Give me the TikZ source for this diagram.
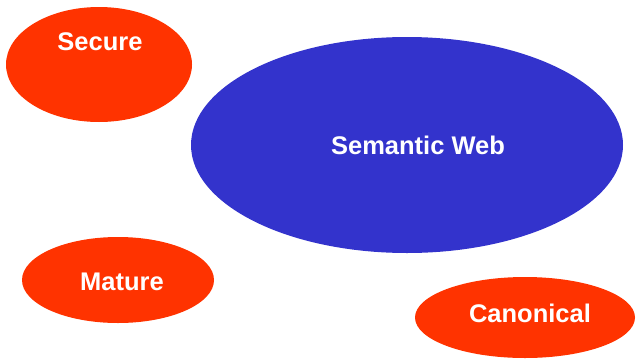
\documentclass[tikz,border=0pt]{standalone}
\usepackage{fontspec}
\setmainfont{Liberation Sans}
\usetikzlibrary{shapes.geometric}
\definecolor{redorange}{HTML}{FF3300}
\definecolor{webblue}{HTML}{3333CC}
\tikzset{
  blob/.style={ellipse, inner sep=0pt, draw=none},
  redblob/.style={blob, fill=redorange},
  blueblob/.style={blob, fill=webblue},
  lbl/.style={text=white, font=\fontsize{25.5}{30}\selectfont\bfseries, inner sep=0pt, text depth=0pt}
}
\begin{document}
\begin{tikzpicture}[x=1pt,y=-1pt]
\useasboundingbox (0,0) rectangle (636,359);
\node[redblob, minimum width=186pt, minimum height=115pt] (secure) at (99,64.5) {};
\node[lbl] (secureT) at (100,42) {Secure};
\node[blueblob, minimum width=432pt, minimum height=216pt] (web) at (407,145) {};
\node[lbl] (webT) at (418,145) {Semantic Web};
\node[redblob, minimum width=192pt, minimum height=86pt] (mature) at (118,280) {};
\node[lbl] (matureT) at (122,282) {Mature};
\node[redblob, minimum width=220pt, minimum height=81pt] (canon) at (525,317.5) {};
\node[lbl] (canonT) at (530,313) {Canonical};
\end{tikzpicture}
\end{document}
